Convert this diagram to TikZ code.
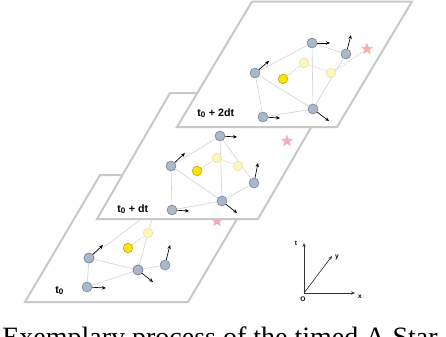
\documentclass[tikz,border=0pt]{standalone}
\usepackage{fontspec}
\setmainfont{Liberation Serif}
\setsansfont{Liberation Sans}
\usetikzlibrary{arrows.meta,shapes.geometric}
\definecolor{planegray}{HTML}{C8C8C8}
\definecolor{edgegray}{HTML}{D2D2D2}
\definecolor{nodegray}{HTML}{A9B9CA}
\definecolor{nodeedge}{HTML}{7E8A96}
\definecolor{ybright}{HTML}{F6E31A}
\definecolor{yedge}{HTML}{D4B800}
\definecolor{ypale}{HTML}{FBF5BE}
\definecolor{ypaleedge}{HTML}{F1E8A4}
\definecolor{dotcol}{HTML}{C8BE9C}
\definecolor{starpink}{HTML}{F4A9C8}
\definecolor{starsalmon}{HTML}{F4B4A8}
\tikzset{
  plane/.style={draw=planegray,line width=1.5pt,fill=white,line join=miter},
  gnode/.style={circle,draw=nodeedge,fill=nodegray,minimum size=7.4pt,inner sep=0pt,line width=0.5pt},
  ynode/.style={circle,draw=yedge,fill=ybright,minimum size=7pt,inner sep=0pt,line width=0.5pt},
  pnode/.style={circle,draw=ypaleedge,fill=ypale,minimum size=7pt,inner sep=0pt,line width=0.5pt},
  edge/.style={draw=edgegray,line width=0.45pt},
  trail/.style={draw=dotcol,densely dotted,line width=0.6pt},
  vel/.style={draw=black,line width=0.5pt,-{Stealth[length=3pt,width=2.6pt]}},
  goal/.style={star,star points=5,star point ratio=2.3,minimum size=9.5pt,inner sep=0pt},
  lbl/.style={font=\sffamily\bfseries\fontsize{8}{9}\selectfont,inner sep=0pt,anchor=base west},
  axis/.style={draw=black!80,line width=0.5pt,-{Stealth[length=3pt,width=2.4pt]}},
  axlbl/.style={font=\sffamily\bfseries\fontsize{5}{6}\selectfont,inner sep=0pt}
}
\begin{document}
\begin{tikzpicture}[x=0.75pt,y=-0.75pt]
\useasboundingbox (0,0) rectangle (446,336);
% ---------------- plane t0 ----------------
\draw[plane] (25,302) -- (188,302) -- (263,175) -- (100,175) -- cycle;
\node[goal,fill=starpink] (S1) at (217,221) {};
\node[gnode] (A1) at (155,209) {};
\node[gnode] (C1) at (89,258) {};
\node[gnode] (B1) at (165,265) {};
\node[gnode] (G1) at (138,270) {};
\node[gnode] (H1) at (87,287) {};
\node[ynode] (D1) at (128,248) {};
\node[pnode] (E1) at (148,233) {};
\draw[edge] (C1) -- (A1);
\draw[edge] (A1) -- (E1);
\draw[edge] (E1) -- (G1);
\draw[edge] (C1) -- (G1);
\draw[edge] (C1) -- (H1);
\draw[edge] (H1) -- (G1);
\draw[edge] (G1) -- (B1);
\draw[trail] (D1) -- (E1);
\node[gnode] at (C1) {};
\node[gnode] at (G1) {};
\node[ynode] at (D1) {};
\node[pnode] at (E1) {};
\coordinate (c1) at (103,245);
\coordinate (b1) at (170,245);
\coordinate (g1) at (153,282);
\coordinate (h1) at (106,288);
\draw[vel] (C1) -- (c1);
\draw[vel] (B1) -- (b1);
\draw[vel] (G1) -- (g1);
\draw[vel] (H1) -- (h1);
\node[lbl] (L1) at (55,293) {t\textsubscript{0}};
% ---------------- plane t0+dt ----------------
\draw[plane] (97,219) -- (258,219) -- (331,93) -- (170,93) -- cycle;
\node[goal,fill=starpink] (S2) at (287,141) {};
\node[gnode] (A2) at (220,136) {};
\node[gnode] (C2) at (171,166) {};
\node[gnode] (B2) at (254,183) {};
\node[gnode] (G2) at (222,201) {};
\node[gnode] (H2) at (172,210) {};
\node[ynode] (D2) at (197,171) {};
\node[pnode] (E2) at (217,158) {};
\node[pnode] (F2) at (238,166) {};
\draw[edge] (C2) -- (A2);
\draw[edge] (A2) -- (G2);
\draw[edge] (A2) -- (B2);
\draw[edge] (B2) -- (G2);
\draw[edge] (C2) -- (G2);
\draw[edge] (C2) -- (H2);
\draw[edge] (H2) -- (G2);
\draw[trail] (D2) -- (E2);
\draw[trail] (E2) -- (F2);
\node[ynode] at (D2) {};
\node[pnode] at (E2) {};
\node[pnode] at (F2) {};
\coordinate (a2) at (237,137);
\coordinate (c2) at (185,153);
\coordinate (b2) at (258,163);
\coordinate (g2) at (237,213);
\coordinate (h2) at (189,211);
\draw[vel] (A2) -- (a2);
\draw[vel] (C2) -- (c2);
\draw[vel] (B2) -- (b2);
\draw[vel] (G2) -- (g2);
\draw[vel] (H2) -- (h2);
\node[lbl] (L2) at (117,212) {t\textsubscript{0} + dt};
% ---------------- plane t0+2dt ----------------
\draw[plane] (177,127) -- (337,127) -- (412,1.5) -- (252,1.5) -- cycle;
\node[goal,fill=starsalmon] (S3) at (367,49) {};
\node[gnode] (A3) at (312,43) {};
\node[gnode] (B3) at (346,54) {};
\node[gnode] (C3) at (255,73) {};
\node[gnode] (G3) at (313,109) {};
\node[gnode] (H3) at (263,117) {};
\node[ynode] (D3) at (283,79) {};
\node[pnode] (E3) at (304,63) {};
\node[pnode] (F3) at (331,73) {};
\draw[edge] (C3) -- (A3);
\draw[edge] (A3) -- (B3);
\draw[edge] (A3) -- (G3);
\draw[edge] (B3) -- (G3);
\draw[edge] (C3) -- (G3);
\draw[edge] (C3) -- (H3);
\draw[edge] (H3) -- (G3);
\draw[trail] (D3) -- (E3);
\draw[trail] (E3) -- (F3);
\draw[trail] (F3) -- (S3);
\node[ynode] at (D3) {};
\node[pnode] at (E3) {};
\node[pnode] at (F3) {};
\coordinate (a3) at (330,43);
\coordinate (b3) at (351,35);
\coordinate (c3) at (269,61);
\coordinate (g3) at (329,121);
\coordinate (h3) at (280,118);
\draw[vel] (A3) -- (a3);
\draw[vel] (B3) -- (b3);
\draw[vel] (C3) -- (c3);
\draw[vel] (G3) -- (g3);
\draw[vel] (H3) -- (h3);
\node[lbl] (L3) at (197,116) {t\textsubscript{0} + 2dt};
% ---------------- axes ----------------
\coordinate (orig) at (304,293);
\coordinate (tt) at (304,243);
\coordinate (yt) at (332,256);
\coordinate (xt) at (355,293);
\draw[axis] (orig) -- (tt);
\draw[axis] (orig) -- (yt);
\draw[axis] (orig) -- (xt);
\node[axlbl] (lt) at (296,243) {t};
\node[axlbl] (ly) at (337,257) {y};
\node[axlbl] (lx) at (360,297) {x};
\node[axlbl] (lo) at (303,299) {O};
% ---------------- caption (cut off at the lower edge, as in the reference) ----------------
\node[font=\fontsize{21}{24}\selectfont,inner sep=0pt,anchor=base west] (cap) at (2,346) {Exemplary process of the timed A Star};
\end{tikzpicture}
\end{document}
